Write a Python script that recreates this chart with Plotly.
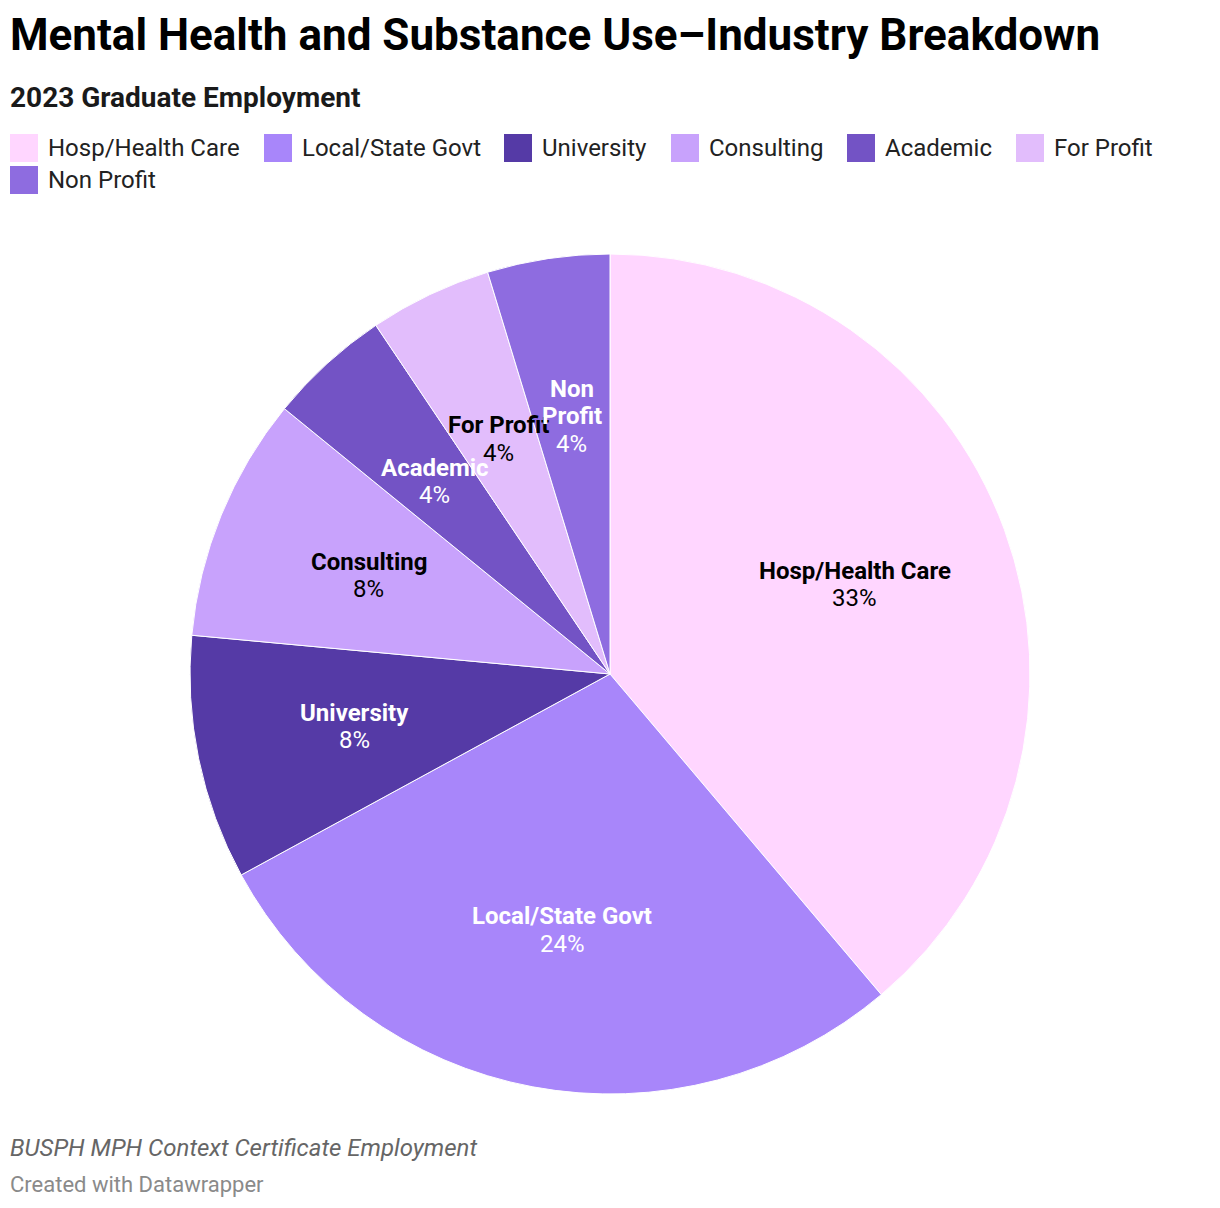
import math
import plotly.graph_objects as go

# data
categories = ["Hosp/Health Care", "Local/State Govt", "University", "Consulting",
              "Academic", "For Profit", "Non Profit"]
shares = [33, 24, 8, 8, 4, 4, 4]

colors = ["#ffd6ff", "#a886fa", "#553aa6", "#c8a2fc", "#7353c5", "#e2bdfc", "#8e6ce0"]
text_colors = ["#000000", "#ffffff", "#ffffff", "#000000", "#ffffff", "#000000", "#ffffff"]

W, H = 1220, 1208
OFF = 8  # page body margin
cx, cy, R = 610, 674, 420  # pie centre and radius in px


def px_x(x):
    return (x - OFF) / W


def px_y(y):
    return 1 - (y - OFF) / H


fig = go.Figure()
fig.add_trace(go.Pie(
    labels=categories, values=shares, sort=False, direction="clockwise", rotation=0,
    marker=dict(colors=colors, line=dict(color="white", width=1)),
    textinfo="none", hoverinfo="label+value", showlegend=False,
    domain=dict(x=[px_x(cx - R), px_x(cx + R)], y=[px_y(cy + R), px_y(cy - R)]),
))

# slice labels at 62% of radius, mid-angle of each slice
total = sum(shares)
cum = 0
line_h = 27.5
for lab, val, tc in zip(categories, shares, text_colors):
    mid = (cum + val / 2) / total * 2 * math.pi
    cum += val
    lx = cx + 0.62 * R * math.sin(mid)
    ly = cy - 0.62 * R * math.cos(mid)
    parts = lab.split(" ") if lab == "Non Profit" else [lab]
    lines = [f"<b>{p}</b>" for p in parts] + [f"{val}%"]
    n = len(lines)
    for i, t in enumerate(lines):
        yy = ly + (i - (n - 1) / 2) * line_h
        fig.add_annotation(x=px_x(lx), y=px_y(yy), xref="paper", yref="paper",
                           text=t, showarrow=False, xanchor="center", yanchor="middle",
                           font=dict(size=24, color=tc, family="Roboto"))

# legend (manual, datawrapper-style squares)
leg_x = [10, 264, 504, 671, 847, 1016, 10]
leg_y = [148, 148, 148, 148, 148, 148, 180]
for lab, col, lx, ly in zip(categories, colors, leg_x, leg_y):
    fig.add_shape(type="rect", xref="paper", yref="paper",
                  x0=px_x(lx), x1=px_x(lx + 28), y0=px_y(ly + 14), y1=px_y(ly - 14),
                  fillcolor=col, line=dict(width=0))
    fig.add_annotation(x=px_x(lx + 36), y=px_y(ly), xref="paper", yref="paper",
                       text=lab, showarrow=False, xanchor="left", yanchor="middle",
                       font=dict(size=24, color="#222222", family="Roboto"))

# titles
fig.add_annotation(x=px_x(8), y=px_y(35), xref="paper", yref="paper", showarrow=False,
                   xanchor="left", yanchor="middle",
                   text="<b>Mental Health and Substance Use–Industry Breakdown</b>",
                   font=dict(size=44, color="#000000", family="Roboto"))
fig.add_annotation(x=px_x(8), y=px_y(97), xref="paper", yref="paper", showarrow=False,
                   xanchor="left", yanchor="middle",
                   text="<b>2023 Graduate Employment</b>",
                   font=dict(size=28, color="#1a1a1a", family="Roboto"))

# footer
fig.add_annotation(x=px_x(8), y=px_y(1148), xref="paper", yref="paper", showarrow=False,
                   xanchor="left", yanchor="middle",
                   text="<i>BUSPH MPH Context Certificate Employment</i>",
                   font=dict(size=24, color="#666666", family="Roboto"))
fig.add_annotation(x=px_x(8), y=px_y(1184), xref="paper", yref="paper", showarrow=False,
                   xanchor="left", yanchor="middle",
                   text="Created with Datawrapper",
                   font=dict(size=22, color="#8a8a8a", family="Roboto"))

fig.update_layout(width=W, height=H, margin=dict(l=0, r=0, t=0, b=0),
                  paper_bgcolor="white", plot_bgcolor="white",
                  font=dict(family="Roboto"))

fig.write_html("out.html")
